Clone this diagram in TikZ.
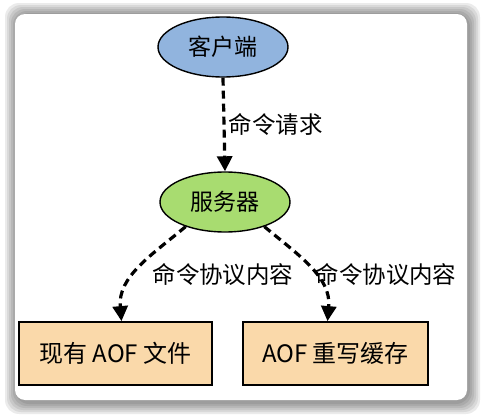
\documentclass[tikz,border=0pt]{standalone}
\usepackage{fontspec}
\setmainfont{Noto Sans CJK SC}
\usepackage{tikz}
\usetikzlibrary{arrows.meta,positioning,shapes.geometric}

\definecolor{clientBlue}{RGB}{145,180,222}
\definecolor{serverGreen}{RGB}{168,220,112}
\definecolor{boxPeach}{RGB}{250,217,170}

\begin{document}
\begin{tikzpicture}[
      x=1pt, y=-1pt,
      >={Triangle[length=15pt,width=15pt]},
      ovalNode/.style={
        draw=black, line width=1.4pt, ellipse, align=center,
        font=\fontsize{23}{26}\selectfont,
        minimum width=130pt, minimum height=60pt, inner sep=0pt
      },
      fileBox/.style={
        draw=black, line width=1.8pt, fill=boxPeach, align=center,
        font=\fontsize{24}{27}\selectfont,
        minimum width=193pt, minimum height=63pt, inner sep=0pt
      },
      flowLabel/.style={font=\fontsize{23.5}{26}\selectfont, inner sep=1pt},
      flow/.style={->, line width=3.2pt, dash pattern=on 8pt off 5pt}
    ]

      % ---------- frame ----------
      \useasboundingbox (0,0) rectangle (483,415);
      \foreach \s in {12,10,8,6,4,2}
        \fill[black, opacity=0.08, rounded corners=14pt]
          (15-\s+2, 14-\s+1) rectangle (467+\s+1, 400+\s+2);
      \fill[white, rounded corners=10pt] (15,14) rectangle (467,400);

      % ---------- nodes ----------
      \node[ovalNode, fill=clientBlue] (client) at (223,47) {客户端};
      \node[ovalNode, fill=serverGreen] (server) at (225,202) {服务器};

      \node[fileBox] (aofFile) at (115.5,353.5) {现有 AOF 文件};
      \node[fileBox, minimum width=185pt] (rewriteBuf) at (335.5,353.5) {AOF 重写缓存};

      % ---------- connectors ----------
      \draw[flow] (client.south) -- (server.north)
        node[flowLabel, midway, right=2pt] {命令请求};

      \draw[flow] (server.212) to[out=-140, in=95] ([xshift=6pt]aofFile.north);
      \draw[flow] (server.328) to[out=-40, in=85] ([xshift=-8pt]rewriteBuf.north);

      \node[flowLabel] (leftLbl) at (223,275) {命令协议内容};
      \node[flowLabel] (rightLbl) at (386,275) {命令协议内容};

    \end{tikzpicture}
\end{document}
